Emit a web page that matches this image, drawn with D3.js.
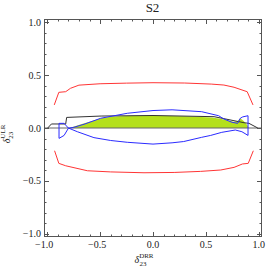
<!DOCTYPE html>
<html>
<head>
<meta charset="utf-8">
<script src="https://cdn.jsdelivr.net/npm/d3@7"></script>
<style>
  body { margin: 0; background: #fff; }
  text { font-family: "Liberation Serif", "DejaVu Serif", serif; fill: #222; }
</style>
</head>
<body>
<div id="chart"></div>
<script>
// contour lines (delta23 DRR vs delta23 ULR)
var redUpX = [-0.933,-0.89,-0.825,-0.78,-0.70,-0.50,-0.25,0,0.3,0.55,0.67,0.766,0.86,0.89,0.945];
var redUpY = [0.218,0.337,0.343,0.375,0.405,0.418,0.424,0.428,0.425,0.415,0.406,0.385,0.353,0.343,0.218];
var redLoX = [-0.93,-0.89,-0.825,-0.62,-0.40,-0.085,0.2,0.45,0.64,0.766,0.845,0.90,0.948];
var redLoY = [-0.215,-0.334,-0.357,-0.404,-0.415,-0.423,-0.42,-0.41,-0.397,-0.372,-0.34,-0.334,-0.215];

var blackX = [-0.995,-0.96,-0.825,-0.816,-0.49,0,0.577,0.86,0.907,0.99];
var blackY = [0,0.038,0.038,0.10,0.113,0.118,0.107,0.05,0.044,0];

var greenX = [-0.79,-0.68,-0.49,-0.40,-0.2,0,0.3,0.557,0.65,0.76,0.80,0.825,0.857,0.89,0.905];
var greenY = [0,0.035,0.092,0.107,0.115,0.115,0.112,0.10,0.085,0.06,0.066,0.092,0.066,0.028,0];

var blueX = [-0.888,-0.84,-0.80,-0.715,-0.558,-0.40,-0.243,0,0.18,0.29,0.46,0.545,0.65,0.778,0.84,0.898,
             0.898,0.848,0.825,0.80,0.747,0.67,0.62,0.46,0.18,0,-0.243,-0.494,-0.652,-0.747,-0.80,-0.84,-0.888];
var blueY = [0.044,0.044,0.0,-0.035,-0.091,-0.118,-0.135,-0.152,-0.14,-0.128,-0.088,-0.07,-0.041,-0.019,-0.035,-0.07,
             0.116,0.105,0.092,0.044,0.054,0.085,0.116,0.154,0.172,0.165,0.139,0.092,0.035,0.007,-0.003,-0.07,-0.098];

var majorTicks = [-1.0,-0.5,0.0,0.5,1.0];
var minorTicks = d3.range(-10, 11).map(function(i){ return i / 10; });

var W = 267, H = 273;
var fLeft = 44, fRight = 262, fTop = 19, fBottom = 237;

var x = d3.scaleLinear().domain([-1.03, 1.03]).range([fLeft, fRight]);
var y = d3.scaleLinear().domain([-1.03, 1.03]).range([fBottom, fTop]);

var svg = d3.select("#chart").append("svg")
    .attr("width", W)
    .attr("height", H);

function pts(xs, ys) {
  return xs.map(function(v, i){ return [v, ys[i]]; });
}

var line = d3.line()
    .x(function(d){ return x(d[0]); })
    .y(function(d){ return y(d[1]); });

var plot = svg.append("g");

// allowed region
plot.append("path")
    .attr("d", line(pts(greenX, greenY)) + "Z")
    .attr("fill", "#b4e01c")
    .attr("stroke", "none");

// y = 0 line
plot.append("path")
    .attr("d", line([[-1.03, 0], [1.03, 0]]))
    .attr("fill", "none")
    .attr("stroke", "#666")
    .attr("stroke-width", 1);

plot.append("path")
    .attr("d", line(pts(blackX, blackY)))
    .attr("fill", "none")
    .attr("stroke", "#333")
    .attr("stroke-width", 1);

plot.append("path")
    .attr("d", line(pts(blueX, blueY)) + "Z")
    .attr("fill", "none")
    .attr("stroke", "#2b2bff")
    .attr("stroke-width", 1);

[pts(redUpX, redUpY), pts(redLoX, redLoY)].forEach(function(p){
  plot.append("path")
      .attr("d", line(p))
      .attr("fill", "none")
      .attr("stroke", "#ff3535")
      .attr("stroke-width", 1);
});

// frame with ticks on all four sides, pointing inward
var frame = svg.append("g").attr("stroke", "#555").attr("stroke-width", 1);

frame.append("rect")
    .attr("x", fLeft + 0.5)
    .attr("y", fTop + 0.5)
    .attr("width", fRight - fLeft - 1)
    .attr("height", fBottom - fTop - 1)
    .attr("fill", "none");

minorTicks.forEach(function(t){
  var len = majorTicks.indexOf(t) >= 0 ? 5 : 2.5;
  var px = Math.round(x(t)) + 0.5, py = Math.round(y(t)) + 0.5;
  frame.append("line").attr("x1", px).attr("x2", px).attr("y1", fBottom).attr("y2", fBottom - len);
  frame.append("line").attr("x1", px).attr("x2", px).attr("y1", fTop).attr("y2", fTop + len);
  frame.append("line").attr("y1", py).attr("y2", py).attr("x1", fLeft).attr("x2", fLeft + len);
  frame.append("line").attr("y1", py).attr("y2", py).attr("x1", fRight).attr("x2", fRight - len);
});

var fmt = function(d){ return d3.format(".1f")(d).replace("-", "\u2212"); };

svg.selectAll(".ylab")
    .data(majorTicks)
  .enter().append("text")
    .attr("class", "ylab")
    .attr("x", fLeft - 3)
    .attr("y", function(d){ return y(d) + 3.5; })
    .attr("text-anchor", "end")
    .attr("font-size", 10)
    .text(fmt);

svg.selectAll(".xlab")
    .data(majorTicks)
  .enter().append("text")
    .attr("class", "xlab")
    .attr("x", function(d){ return x(d) - (d < 0 ? 3 : 0); })
    .attr("y", 248)
    .attr("text-anchor", "middle")
    .attr("font-size", 10)
    .text(fmt);

svg.append("text")
    .attr("x", 152.5)
    .attr("y", 12)
    .attr("text-anchor", "middle")
    .attr("font-size", 13)
    .text("S2");

// axis titles: delta with super/subscripts
var xt = svg.append("text")
    .attr("x", 144)
    .attr("y", 263)
    .attr("text-anchor", "middle")
    .attr("font-size", 10)
    .attr("font-style", "italic");
xt.append("tspan").text("\u03b4");
xt.append("tspan").attr("font-size", 7).attr("font-style", "normal").attr("dy", -5).text("DRR");
xt.append("tspan").attr("font-size", 7).attr("font-style", "normal").attr("dx", -14).attr("dy", 8).text("23");

var yt = svg.append("text")
    .attr("transform", "translate(10,134) rotate(-90)")
    .attr("text-anchor", "middle")
    .attr("font-size", 10)
    .attr("font-style", "italic");
yt.append("tspan").text("\u03b4");
yt.append("tspan").attr("font-size", 7).attr("font-style", "normal").attr("dy", -5).text("ULR");
yt.append("tspan").attr("font-size", 7).attr("font-style", "normal").attr("dx", -14).attr("dy", 8).text("23");
</script>
</body>
</html>
